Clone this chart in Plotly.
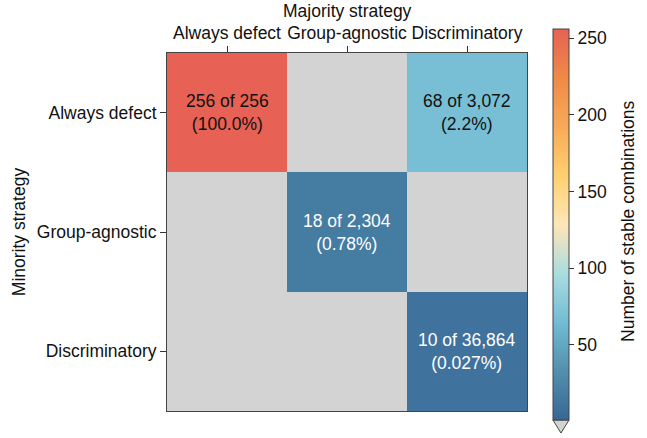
import plotly.graph_objects as go

majority = ["Always defect", "Group-agnostic", "Discriminatory"]
minority = ["Always defect", "Group-agnostic", "Discriminatory"]
# stable combinations (None = none stable, shown gray)
stable = [
    [256, None, 68],
    [None, 18, None],
    [None, None, 10],
]
totals = [
    [256, None, 3072],
    [None, 2304, None],
    [None, None, 36864],
]
pct_labels = [
    ["100.0%", None, "2.2%"],
    [None, "0.78%", None],
    [None, None, "0.027%"],
]
cbar_ticks = [50, 100, 150, 200, 250]

palette = ["#376795", "#528fad", "#72bcd5", "#aadce0", "#ffe6b7",
           "#ffd06f", "#f7aa58", "#ef8a47", "#e76254"]
colorscale = [[i / (len(palette) - 1), c] for i, c in enumerate(palette)]

FONT = "Liberation Sans, Arial, Helvetica, sans-serif"
FS = 17.5

fig = go.Figure(go.Heatmap(
    z=stable, x=majority, y=minority,
    colorscale=colorscale, zmin=1, zmax=256,
    hoverongaps=False,
    colorbar=dict(
        thickness=16, thicknessmode="pixels",
        len=391, lenmode="pixels",
        x=1.072, xanchor="left", xpad=0,
        y=1.067, yanchor="top", ypad=0,
        outlinewidth=1, outlinecolor="#444",
        tickvals=cbar_ticks, ticks="outside", ticklen=5, tickcolor="#333",
        tickfont=dict(size=FS, color="#111", family=FONT),
    ),
))

for i, row in enumerate(stable):
    for j, v in enumerate(row):
        if v is None:
            continue
        color = "white" if v < 40 else "#111"
        fig.add_annotation(
            x=majority[j], y=minority[i],
            text=f"{v} of {totals[i][j]:,}<br>({pct_labels[i][j]})",
            showarrow=False,
            font=dict(size=FS, color=color, family=FONT),
        )

# x-axis title (top)
fig.add_annotation(
    xref="paper", yref="paper", x=0.5, y=1.117,
    text="Majority strategy", showarrow=False,
    xanchor="center", yanchor="middle",
    font=dict(size=FS, color="#111", family=FONT),
)

# colorbar title
fig.add_annotation(
    xref="paper", yref="paper", x=1.2806, y=0.528,
    text="Number of stable combinations", textangle=-90, showarrow=False,
    xanchor="center", yanchor="middle",
    font=dict(size=FS, color="#111", family=FONT),
)

# extension triangle below the colorbar (values below minimum)
fig.add_shape(type="path", xref="paper", yref="paper",
              path="M 1.072 -0.0251 L 1.1167 -0.0251 L 1.0944 -0.0615 Z",
              fillcolor="#d3d3d3", line=dict(color="#444", width=1))

fig.update_layout(
    width=647, height=438,
    margin=dict(l=167, r=120, t=53, b=27, autoexpand=False),
    plot_bgcolor="#d3d3d3", paper_bgcolor="white",
    font=dict(family=FONT, size=FS, color="#111"),
    xaxis=dict(side="top", automargin=False,
               ticks="outside", ticklen=6, tickcolor="#333",
               showline=True, linecolor="#444", mirror=True, linewidth=1,
               showgrid=False, zeroline=False, tickfont=dict(size=FS)),
    yaxis=dict(autorange="reversed", title=dict(text="Minority strategy", standoff=6,
                                                font=dict(size=FS)),
               automargin=False,
               ticks="outside", ticklen=6, tickcolor="#333",
               showline=True, linecolor="#444", mirror=True, linewidth=1,
               showgrid=False, zeroline=False, tickfont=dict(size=FS)),
)

fig.write_html("out.html",
               config={"displayModeBar": False},
               post_script="document.body.style.margin='0';document.body.style.overflow='hidden';")
